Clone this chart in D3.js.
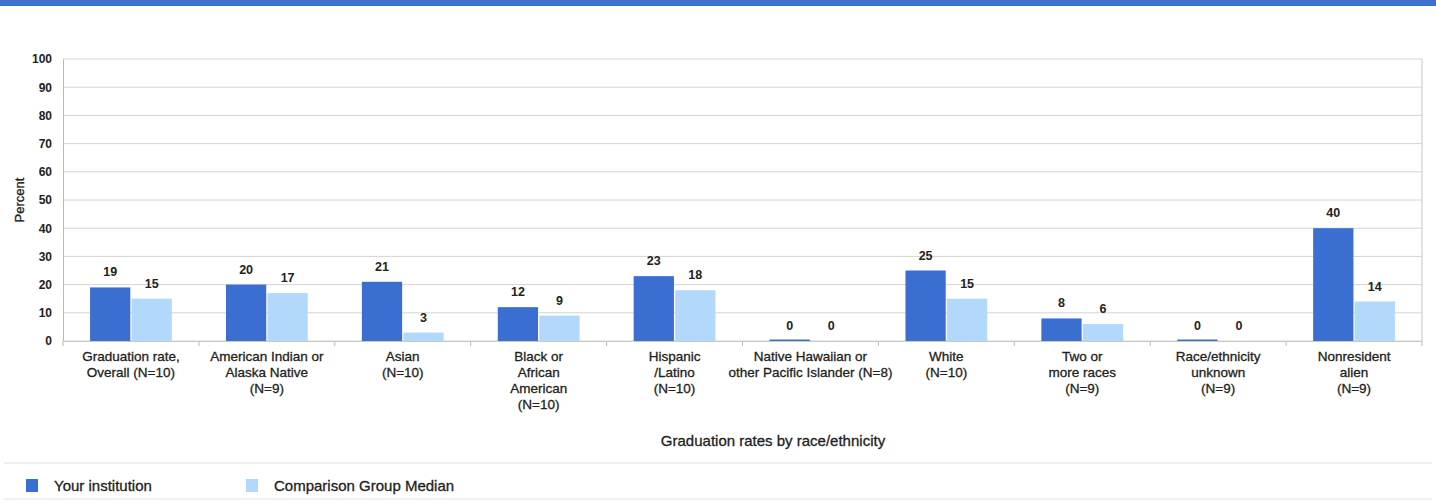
<!DOCTYPE html>
<html>
<head>
<meta charset="utf-8">
<script src="https://cdn.jsdelivr.net/npm/d3@7"></script>
<style>
  body { margin: 0; background: #fff; }
  svg { display: block; font-family: "Liberation Sans", Arial, sans-serif; }
</style>
</head>
<body>
<div id="chart"></div>
<script>
var categories = [
  ["Graduation rate,", "Overall (N=10)"],
  ["American Indian or", "Alaska Native", "(N=9)"],
  ["Asian", "(N=10)"],
  ["Black or", "African", "American", "(N=10)"],
  ["Hispanic", "/Latino", "(N=10)"],
  ["Native Hawaiian or", "other Pacific Islander (N=8)"],
  ["White", "(N=10)"],
  ["Two or", "more races", "(N=9)"],
  ["Race/ethnicity", "unknown", "(N=9)"],
  ["Nonresident", "alien", "(N=9)"]
];
var yourInstitution = [19, 20, 21, 12, 23, 0, 25, 8, 0, 40];
var comparisonMedian = [15, 17, 3, 9, 18, 0, 15, 6, 0, 14];
var yTicks = [0, 10, 20, 30, 40, 50, 60, 70, 80, 90, 100];
var seriesNames = ["Your institution", "Comparison Group Median"];
var seriesColors = ["#3a6ed0", "#b2d9fc"];

var W = 1436, H = 504;
var m = {left: 63, right: 14, top: 59, bottom: 163};

var svg = d3.select("#chart").append("svg")
  .attr("width", W).attr("height", H);

// top banner strip
svg.append("rect").attr("x", 0).attr("y", 0).attr("width", W).attr("height", 6)
  .attr("fill", "#3f6fcc");

var x = d3.scaleBand()
  .domain(d3.range(categories.length))
  .range([m.left, W - m.right])
  .paddingInner(0.38).paddingOuter(0.19);
var x1 = d3.scaleBand().domain([0, 1]).range([0, x.bandwidth()]).padding(0.03);
var y = d3.scaleLinear().domain([0, 100]).range([H - m.bottom, m.top]);

// gridlines
svg.append("g").selectAll("line").data(yTicks).join("line")
  .attr("x1", m.left).attr("x2", W - m.right)
  .attr("y1", function(d){ return y(d); }).attr("y2", function(d){ return y(d); })
  .attr("stroke", "#d4d4d4").attr("stroke-width", 1);

// right border
svg.append("line").attr("x1", W - m.right).attr("x2", W - m.right)
  .attr("y1", y(100)).attr("y2", y(0)).attr("stroke", "#c8c8c8");

// y axis
var yAxis = svg.append("g").attr("transform", "translate(" + m.left + ",0)")
  .call(d3.axisLeft(y).tickValues(yTicks).tickSize(0).tickPadding(11));
yAxis.select(".domain").attr("stroke", "#b8b8b8");
yAxis.selectAll("text").attr("font-size", 12).attr("font-weight", "bold").attr("fill", "#222");

// x axis ticks at band boundaries
var bounds = d3.range(categories.length + 1).map(function(i){
  return m.left + i * (W - m.right - m.left) / categories.length;
});
svg.append("g").selectAll("line").data(bounds).join("line")
  .attr("x1", function(d){ return d; }).attr("x2", function(d){ return d; })
  .attr("y1", y(0)).attr("y2", y(0) + 5).attr("stroke", "#b8b8b8");
svg.append("line").attr("x1", m.left).attr("x2", W - m.right)
  .attr("y1", y(0) + 0.5).attr("y2", y(0) + 0.5).attr("stroke", "#c8c8c8");

// bars
var series = [yourInstitution, comparisonMedian];
series.forEach(function(vals, s){
  var g = svg.append("g");
  g.selectAll("rect").data(vals).join("rect")
    .attr("x", function(d, i){ return x(i) + x1(s); })
    .attr("width", x1.bandwidth())
    .attr("y", function(d){ return d === 0 && s === 0 ? y(0) - 1.5 : y(d); })
    .attr("height", function(d){ return d === 0 && s === 0 ? 1.5 : y(0) - y(d); })
    .attr("fill", seriesColors[s]);
  g.selectAll("text").data(vals).join("text")
    .attr("x", function(d, i){ return x(i) + x1(s) + x1.bandwidth() / 2; })
    .attr("y", function(d){ return y(d) - 11; })
    .attr("text-anchor", "middle")
    .attr("font-size", 12.5).attr("font-weight", "bold").attr("fill", "#222")
    .text(function(d){ return d; });
});

// category labels
svg.append("g").selectAll("text").data(categories).join("text")
  .attr("x", function(d, i){ return x(i) + x.bandwidth() / 2; })
  .attr("y", y(0) + 20)
  .attr("text-anchor", "middle").attr("font-size", 13.5).attr("fill", "#222")
  .attr("stroke", "#222").attr("stroke-width", 0.3)
  .each(function(lines){
    var t = d3.select(this);
    lines.forEach(function(l, k){
      t.append("tspan").attr("x", t.attr("x")).attr("dy", k === 0 ? 0 : 16).text(l);
    });
  });

// axis titles
svg.append("text").attr("x", 773).attr("y", 446)
  .attr("text-anchor", "middle").attr("font-size", 15).attr("fill", "#222")
  .attr("stroke", "#222").attr("stroke-width", 0.3)
  .text("Graduation rates by race/ethnicity");
svg.append("text").attr("transform", "translate(24," + y(50) + ") rotate(-90)")
  .attr("text-anchor", "middle").attr("font-size", 13).attr("fill", "#222")
  .attr("stroke", "#222").attr("stroke-width", 0.3)
  .text("Percent");

// legend
svg.append("line").attr("x1", 4).attr("x2", W - 4).attr("y1", 463).attr("y2", 463)
  .attr("stroke", "#e2e2e2");
svg.append("line").attr("x1", 4).attr("x2", W - 4).attr("y1", 499).attr("y2", 499)
  .attr("stroke", "#e2e2e2");
var legendX = [26, 246];
var lg = svg.append("g").selectAll("g").data(seriesNames).join("g")
  .attr("transform", function(d, i){ return "translate(" + legendX[i] + ",479)"; });
lg.append("rect").attr("width", 12).attr("height", 13)
  .attr("fill", function(d, i){ return seriesColors[i]; });
lg.append("text").attr("x", 28).attr("y", 12).attr("font-size", 15).attr("fill", "#222")
  .attr("stroke", "#222").attr("stroke-width", 0.3)
  .text(function(d){ return d; });
</script>
</body>
</html>
